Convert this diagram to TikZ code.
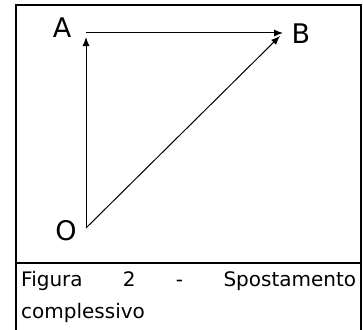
\documentclass[tikz,border=0pt]{standalone}
\usepackage{fontspec}
\setmainfont{DejaVu Sans}
\usetikzlibrary{arrows.meta}
\tikzset{
  frameline/.style={line width=2pt, line cap=rect},
  vec/.style={line width=1pt, -{Latex[length=9pt,width=7pt]}},
  ptlabel/.style={font=\fontsize{27}{30}\selectfont, inner sep=0pt},
  captext/.style={font=\fontsize{20}{24}\selectfont, inner sep=0pt}
}
\begin{document}
\begin{tikzpicture}[x=1pt,y=-1pt]
  \useasboundingbox (0,0) rectangle (363,329);
  \fill[white] (0,0) rectangle (363,329);
  % frame
  \coordinate (TL) at (16,5);
  \coordinate (TR) at (361,5);
  \coordinate (BL) at (16,332);
  \coordinate (BR) at (361,332);
  \coordinate (DL) at (16,263);
  \coordinate (DR) at (361,263);
  \draw[frameline] (BL) -- (TL) -- (TR) -- (BR);
  \draw[frameline] (DL) -- (DR);
  % points
  \coordinate (O) at (86,228);
  \coordinate (A) at (86,33);
  \coordinate (B) at (283,33);
  \node[ptlabel] (lA) at (62,28) {A};
  \node[ptlabel] (lB) at (301,34) {B};
  \node[ptlabel] (lO) at (66,231) {O};
  % vectors
  \draw[vec] (O) -- ([yshift=-4pt]A);
  \draw[vec] (A) -- (B);
  \draw[vec] (O) -- ([xshift=-3pt,yshift=-3pt]B);
  % caption
  \node[captext, anchor=base west] (cap1) at (21,286)
    {\hbox to 335pt{Figura\hfill 2\hfill -\hfill Spostamento}};
  \node[captext, anchor=base west] (cap2) at (21,318) {complessivo};
\end{tikzpicture}
\end{document}
